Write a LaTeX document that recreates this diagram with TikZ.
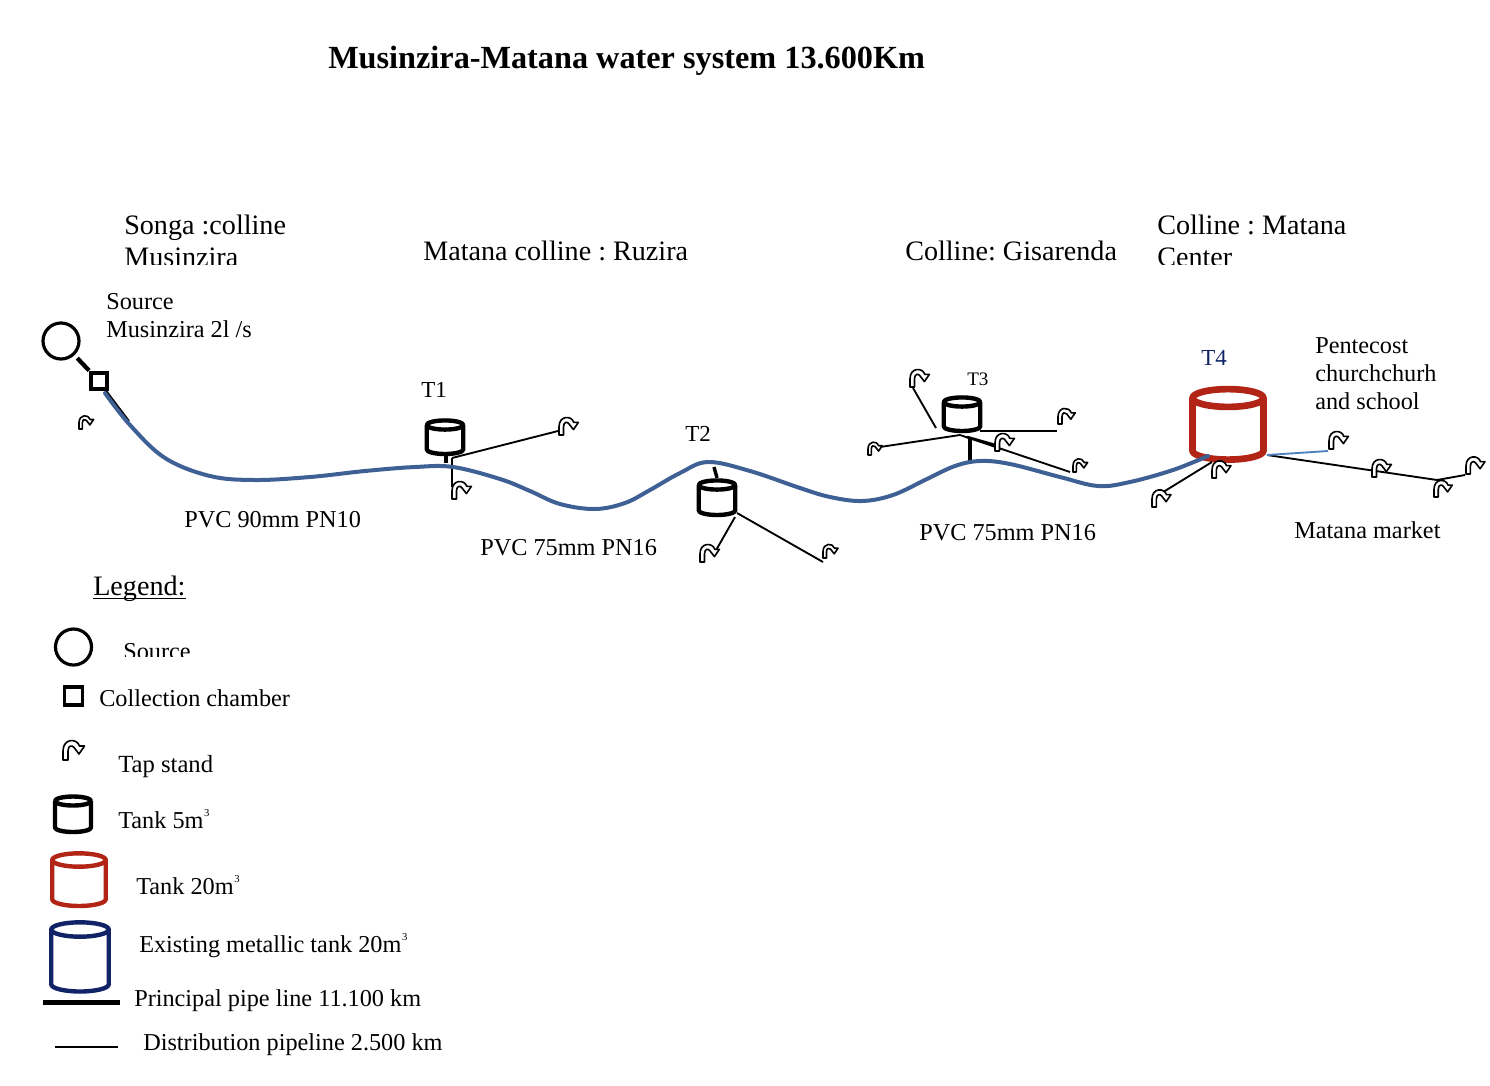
\documentclass[tikz,border=0pt]{standalone}
\usepackage{fontspec}
\setmainfont{Liberation Serif}
\usetikzlibrary{calc,positioning}
\definecolor{pipeblue}{RGB}{63,96,148}
\definecolor{branchblue}{RGB}{79,129,189}
\definecolor{tankred}{RGB}{178,37,22}
\definecolor{tanknavy}{RGB}{15,35,102}
\newcommand{\cubesup}{\raisebox{1.0ex}{\kern0.5pt\fontsize{8}{8}\selectfont 3}}
\AtBeginDocument{\frenchspacing}
\tikzset{
    % Text sizes
    hilltext/.style={inner sep=0pt, anchor=base west, font=\fontsize{21.1}{24}\selectfont},
    labeltext/.style={inner sep=0pt, anchor=base west, font=\fontsize{18.2}{21}\selectfont},
    tanktext/.style={inner sep=0pt, anchor=base west, font=\fontsize{17.2}{20}\selectfont},
    % Line kinds
    mainpipe/.style={pipeblue, line width=3pt, line cap=round},
    branchpipe/.style={black, line width=1.4pt},
    stubpipe/.style={black, line width=2.6pt},
    % Symbols
    sourcenode/.style={circle, draw=black, minimum size=27pt, inner sep=0pt, line width=2.4pt},
    chambernode/.style={rectangle, draw=black, minimum size=12.5pt, inner sep=0pt, line width=3.2pt},
    pics/tap/.style={code={
        \draw[black, fill=white, line width=1.2pt, line join=round]
            (0,0)--(0,-9) .. controls (0,-22) and (14,-22) .. (16.5,-14)
            --(21.5,-14)--(16,-6)--(11,-12.5)
            .. controls (9.5,-15) and (5,-15) .. (5,-9) --(5,0)--cycle;
    }},
    % width, height, colour, line width
    pics/tank/.style n args={4}{code={
        \pgfmathsetmacro{\hw}{#1/2}
        \pgfmathsetmacro{\ry}{#1/8}
        \draw[#3, line width=#4pt, line join=round]
            (0,0) ellipse [x radius=\hw, y radius=\ry]
            (-\hw,0)--(-\hw,#2-\ry)
            .. controls (-\hw,#2-0.45*\ry) and (-0.55*\hw,#2) .. (0,#2)
            .. controls (0.55*\hw,#2) and (\hw,#2-0.45*\ry) .. (\hw,#2-\ry)--(\hw,0);
    }},
}
\begin{document}
\begin{tikzpicture}[x=0.75pt,y=-0.75pt]
  \useasboundingbox (0,0) rectangle (1490,1086);

  % --- title and hill names ---
  \node[inner sep=0pt,anchor=base west,font=\fontsize{24.2}{28}\bfseries\selectfont] (title) at (328,68) {Musinzira-Matana water system 13.600Km};
  \begin{scope}
    \clip (100,190) rectangle (1400,264);
    \node[hilltext] (songa) at (124,234) {Songa :colline};
    \node[hilltext] (musinzira) at (124,266.5) {Musinzira};
    \node[hilltext] (ruzira) at (423,260) {Matana colline : Ruzira};
    \node[hilltext] (gisarenda) at (905,260) {Colline: Gisarenda};
    \node[hilltext] (matana) at (1157,234) {Colline : Matana};
    \node[hilltext] (center) at (1157,266.5) {Center};
  \end{scope}

  % --- source and chamber ---
  \node[sourcenode] (source) at (61,341) {};
  \node[chambernode] (chamber) at (99,381) {};
  \draw[stubpipe,line width=3.2pt,shorten <=3pt] (source) -- (chamber);
  \node[labeltext] (sourcelabel) at (106,309) {Source};
  \node[labeltext] (sourcename) at (106,337) {Musinzira 2l /s};

  % --- tanks ---
  \pic at (445,425) {tank={36.5}{29}{black}{3.3}};
  \pic at (717,485) {tank={36.5}{30}{black}{3.3}};
  \pic at (962,402) {tank={36.5}{29}{black}{3.3}};
  \pic at (1228,398) {tank={71}{61.6}{tankred}{5}};
  \node[tanktext] (t1) at (421,397) {T1};
  \node[tanktext] (t2) at (685,441) {T2};
  \node[tanktext,font=\fontsize{14.3}{16}\selectfont] (t3) at (967,385) {T3};
  \node[tanktext,text=tanknavy] (t4) at (1201,365) {T4};

  % tap positions
  \foreach \tapname/\x/\y/\s in {tapa/79/429/0.68, tapb/559/435/0.9, tapc/452/499/0.9,
      tapd/700/562/0.9, tape/823/558/0.7, tapf/910/387/0.9, tapg/868/455/0.66,
      taph/995/451/0.9, tapi/1058/424/0.8, tapj/1073/472/0.68, tapk/1329/449/0.9,
      tapl/1372/477/0.9, tapm/1434/497/0.85, tapn/1466/474/0.88, tapo/1212/478/0.88,
      tapp/1152/507/0.88, tapq/63/760/1}{\coordinate (\tapname) at (\x,\y);}

  % --- distribution lines ---
  \coordinate (t1out) at (452,458);
  \coordinate (t2out) at (737,513);
  \coordinate (t2low) at (735,517);
  \coordinate (t3out) at (960,435);
  \coordinate (t4out) at (1267,455);
  \coordinate (t4low) at (1212,462);
  \draw[branchpipe] (t1out) -- ($(tapb)+(-1,-4)$);
  \draw[branchpipe] (t1out) -- ($(tapc)+(0,-12)$);
  \draw[stubpipe] (446,456) -- (446,463);
  \draw[branchpipe] (t2out) -- (823,562);
  \draw[branchpipe] (t2low) -- (715,552);
  \draw[stubpipe] (714,467) -- (717,478);
  \draw[branchpipe] (913,388) -- (936,428);
  \draw[branchpipe] (880,447) -- (t3out);
  \draw[branchpipe] (980,431) -- (1057,431);
  \draw[branchpipe] (t3out) -- (1070,472);
  \draw[stubpipe,line width=2pt] (967,437) -- (995,445);
  \draw[stubpipe] (970,438) -- (970,463);
  \draw[branchpipe] (t4low) -- (1160,494);
  \draw[branchpipe] (t4out) -- (1437,480) -- (1465,475);
  \draw[branchblue,line width=1.4pt] (t4out) -- (1328,451);

  % --- main pipe ---
  \coordinate (pipestart) at (105,393);
  \draw[branchpipe] (104,388) -- (129,421);
  \draw[mainpipe] plot[smooth,tension=0.6] coordinates {(pipestart) (130,425) (165,458) (210,476)
      (255,480) (310,477) (365,471) (415,467) (453,467) (500,479) (530,491) (560,504) (595,509)
      (625,503) (650,490) (680,473) (708,462) (750,471) (800,488) (830,497) (862,501) (893,495)
      (927,479) (955,466) (980,461) (1010,464) (1060,477) (1098,486) (1130,482) (1173,470) (1208,456)};

  % --- taps ---
  \foreach \tapname/\x/\y/\s in {tapa/79/429/0.68, tapb/559/435/0.9, tapc/452/499/0.9,
      tapd/700/562/0.9, tape/823/558/0.7, tapf/910/387/0.9, tapg/868/455/0.66,
      taph/995/451/0.9, tapi/1058/424/0.8, tapj/1073/472/0.68, tapk/1329/449/0.9,
      tapl/1372/477/0.9, tapm/1434/497/0.85, tapn/1466/474/0.88, tapo/1212/478/0.88,
      tapp/1152/507/0.88, tapq/63/760/1}{\pic[scale=\s] at (\tapname) {tap};}

  % --- section labels ---
  \node[labeltext] (pipea) at (184,527) {PVC 90mm PN10};
  \node[labeltext] (pipeb) at (480,555) {PVC 75mm PN16};
  \node[labeltext] (pipec) at (919,540) {PVC 75mm PN16};
  \node[labeltext] (pentecost) at (1315,353) {Pentecost};
  \node[labeltext] (church) at (1315,381) {churchchurh};
  \node[labeltext] (school) at (1315,409) {and school};
  \node[labeltext] (market) at (1294,538) {Matana market};

  % --- legend ---
  \node[hilltext] (legend) at (93,595) {Legend:};
  \draw[black,line width=1.1pt] ($(legend.base west)+(0,3.5)$) -- ($(legend.base east)+(0,3.5)$);
  \node[sourcenode] (legsource) at (73.5,647) {};
  \begin{scope}
    \clip (110,630) rectangle (300,656.5);
    \node[labeltext] (legsourcetext) at (123,659) {Source};
  \end{scope}
  \node[chambernode,minimum size=13.5pt,line width=2.8pt] (legchamber) at (73.5,696) {};
  \node[labeltext] (legchambertext) at (99,706) {Collection chamber};
  \node[labeltext,font=\fontsize{18.5}{21}\selectfont] (legtaptext) at (118,772) {Tap stand};
  \pic at (73,801) {tank={36}{31}{black}{3.3}};
  \node[labeltext] (legsmalltext) at (118,828) {Tank 5m\cubesup};
  \pic at (79,860) {tank={53.5}{46}{tankred}{3.3}};
  \node[labeltext] (legredtext) at (136,894) {Tank 20m\cubesup};
  \pic at (80,929.5) {tank={57.5}{62}{tanknavy}{3.3}};
  \node[labeltext] (legbluetext) at (139,952) {Existing metallic tank 20m\cubesup};
  \coordinate (legmaina) at (43,1002.5);
  \coordinate (legmainb) at (120,1002.5);
  \draw[black,line width=3.2pt] (legmaina) -- (legmainb);
  \node[labeltext] (legmaintext) at (134,1006) {Principal pipe line 11.100 km};
  \coordinate (legdista) at (55,1047);
  \coordinate (legdistb) at (118,1047);
  \draw[branchpipe] (legdista) -- (legdistb);
  \node[labeltext] (legdisttext) at (143,1050) {Distribution pipeline 2.500 km};
\end{tikzpicture}
\end{document}
